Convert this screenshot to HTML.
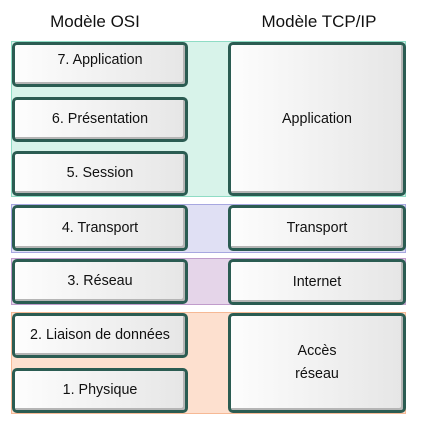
<!DOCTYPE html>
<html><head><meta charset="utf-8"><style>
body{margin:0;width:425px;height:438px;background:#fff;position:relative;font-family:"Liberation Sans",sans-serif;overflow:hidden}
.t{position:absolute;top:12px;font-size:17px;color:#111;width:200px;text-align:center}
.band{position:absolute;left:11px;width:395px;box-sizing:border-box;border:1px solid}
.b{position:absolute;box-sizing:border-box;border:3px solid #2b5c52;border-radius:5px;background:linear-gradient(90deg,#fdfdfd,#e6e6e6);box-shadow:inset -2px -2px 0 #b5b5b5;display:flex;align-items:center;justify-content:center;text-align:center;font-size:14.3px;color:#111;line-height:23px}
.l{left:12px;width:176px}.r{left:228px;width:178px}
</style></head><body>
<div class="t" style="left:-5px">Modèle OSI</div>
<div class="t" style="left:219px">Modèle TCP/IP</div>
<div class="band" style="top:41px;height:156px;background:#d8f3ea;border-color:#8fdcc5"></div>
<div class="band" style="top:204px;height:49px;background:#e0e0f4;border-color:#a7a7e0"></div>
<div class="band" style="top:258px;height:47px;background:#e5d5e9;border-color:#c09ccb"></div>
<div class="band" style="top:312px;height:102px;background:#fde0cf;border-color:#f6b995"></div>
<div class="b l" style="top:42px;height:45px;align-items:flex-start;padding-top:4px">7. Application</div>
<div class="b l" style="top:97px;height:45px">6. Présentation</div>
<div class="b l" style="top:151px;height:45px">5. Session</div>
<div class="b l" style="top:205px;height:46px">4. Transport</div>
<div class="b l" style="top:259px;height:45px">3. Réseau</div>
<div class="b l" style="top:313px;height:45px">2. Liaison de données</div>
<div class="b l" style="top:368px;height:45px">1. Physique</div>
<div class="b r" style="top:42px;height:154px">Application</div>
<div class="b r" style="top:205px;height:46px">Transport</div>
<div class="b r" style="top:259px;height:46px">Internet</div>
<div class="b r" style="top:313px;height:100px">Accès<br>réseau</div>
</body></html>
